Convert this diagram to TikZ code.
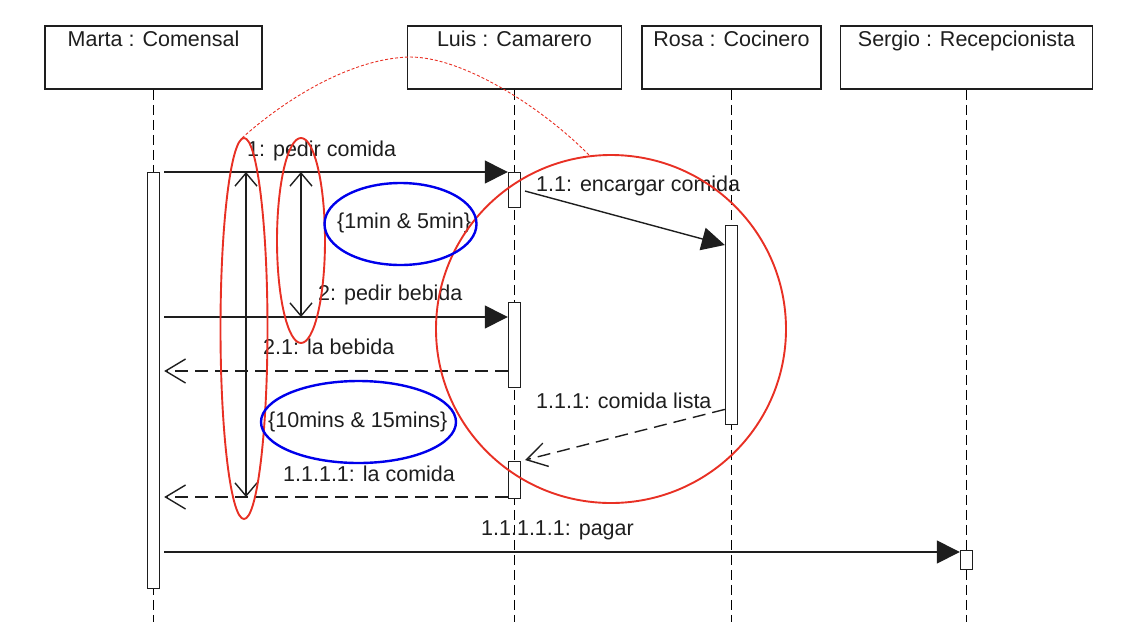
\documentclass[tikz,border=0pt]{standalone}
\usepackage{fontspec}
\setmainfont{Liberation Sans}
\usetikzlibrary{arrows.meta}
\definecolor{umlgray}{RGB}{30,30,30}
\definecolor{markred}{RGB}{232,48,36}
\definecolor{markblue}{RGB}{0,0,235}

\begin{document}
\begin{tikzpicture}[x=1pt, y=-1pt,
  obj/.style={rectangle, draw=umlgray, line width=1.6pt, minimum width=#1, minimum height=63pt, inner sep=0pt},
  bar/.style={rectangle, draw=umlgray, fill=white, line width=1.4pt, minimum width=12pt, inner sep=0pt, anchor=north},
  lifeline/.style={draw=black, line width=1.4pt, dash pattern=on 10pt off 5pt},
  lbl/.style={font=\fontsize{21.5}{24}\selectfont, text=umlgray, inner sep=0pt},
  call/.style={-{Triangle[length=23pt,width=23pt]}, line width=1.4pt, umlgray, shorten <=4pt},
  reply/.style={-{Straight Barb[length=20pt,width=24pt]}, line width=1.4pt, umlgray, dash pattern=on 13pt off 7pt, shorten >=4pt},
  dur/.style={{Straight Barb[length=13pt,width=22pt]}-{Straight Barb[length=13pt,width=22pt]}, line width=1.4pt, umlgray},
  redmark/.style={draw=markred, line width=1.9pt},
  bluemark/.style={draw=markblue, line width=2.4pt}
]
\useasboundingbox (0,0) rectangle (1136,638);

% objects
\node[obj=217pt, label={[lbl, anchor=north, yshift=-6pt]north:Marta : Comensal}] (marta) at (153.5,57.5) {};
\node[obj=214pt, label={[lbl, anchor=north, yshift=-6pt]north:Luis : Camarero}] (luis) at (514.5,57.5) {};
\node[obj=179pt, label={[lbl, anchor=north, yshift=-6pt]north:Rosa : Cocinero}] (rosa) at (731.5,57.5) {};
\node[obj=252pt, label={[lbl, anchor=north, yshift=-6pt]north:Sergio : Recepcionista}] (sergio) at (966.5,57.5) {};

\coordinate (mend) at (153.5,622);
\coordinate (lend) at (514.5,622);
\coordinate (rend) at (731.5,622);
\coordinate (send) at (966.5,622);

\draw[lifeline] (marta) -- (mend);
\draw[lifeline] (luis) -- (lend);
\draw[lifeline] (rosa) -- (rend);
\draw[lifeline] (sergio) -- (send);

% message rows
\coordinate (r1) at (0,172);
\coordinate (r2) at (0,317);
\coordinate (r3) at (0,371);
\coordinate (r4) at (0,497);
\coordinate (r5) at (0,552);

% activations
\node[bar, minimum height=416pt] (mbar) at (marta |- r1) {};
\node[bar, minimum height=35pt] (lbar1) at (luis |- r1) {};
\node[bar, minimum height=85pt] (lbar2) at (514.5,302) {};
\node[bar, minimum height=37pt] (lbar3) at (514.5,461) {};
\node[bar, minimum height=199pt] (rbar) at (731.5,225) {};
\node[bar, minimum height=19pt] (sbar) at (966.5,550) {};

% messages
\draw[call] (mbar.east |- r1) -- (lbar1.west |- r1);
\draw[call] ([yshift=-18pt]lbar1.north east) -- ([yshift=-20pt]rbar.north west);
\draw[call] (mbar.east |- r2) -- (lbar2.west |- r2);
\draw[reply] (lbar2.west |- r3) -- (mbar.east |- r3);
\draw[reply] ([yshift=16pt]rbar.south west) -- (lbar3.north east);
\draw[reply] (lbar3.west |- r4) -- (mbar.east |- r4);
\draw[call] (mbar.east |- r5) -- (sbar.west |- r5);

\node[lbl, anchor=base west] (l1) at (247,156) {1: pedir comida};
\node[lbl, anchor=base west] (l11) at (536,191) {1.1: encargar comida};
\node[lbl, anchor=base west] (l2) at (318,300) {2: pedir bebida};
\node[lbl, anchor=base west] (l21) at (263,354) {2.1: la bebida};
\node[lbl, anchor=base west] (l111) at (536,408) {1.1.1: comida lista};
\node[lbl, anchor=base west] (l1111) at (283,481) {1.1.1.1: la comida};
\node[lbl, anchor=base west] (l11111) at (481,535) {1.1.1.1.1: pagar};

% duration constraints
\coordinate (dA) at (246,0);
\coordinate (dB) at (301,0);
\draw[dur] (dA |- r1) -- (dA |- r4);
\draw[dur] (dB |- r1) -- (dB |- r2);

\node[lbl, anchor=base west] (t1) at (337,228) {\{1min \& 5min\}};
\node[lbl, anchor=base west] (t2) at (268,427) {\{10mins \& 15mins\}};

% marks
\draw[redmark] (244,328.5) ellipse [x radius=23.5, y radius=190.5];
\draw[redmark] (301,240.5) ellipse [x radius=24, y radius=102.5];
\draw[redmark] (611,329) ellipse [x radius=175, y radius=174];
\draw[markred, line width=0.9pt, dash pattern=on 3pt off 2pt] (242,138) .. controls (290,95) and (355,58) .. (410,57) .. controls (465,57) and (545,110) .. (590,156);
\draw[bluemark] (400.5,224) ellipse [x radius=76, y radius=41];
\draw[bluemark] (358.5,422) ellipse [x radius=97.5, y radius=41];

\end{tikzpicture}
\end{document}
